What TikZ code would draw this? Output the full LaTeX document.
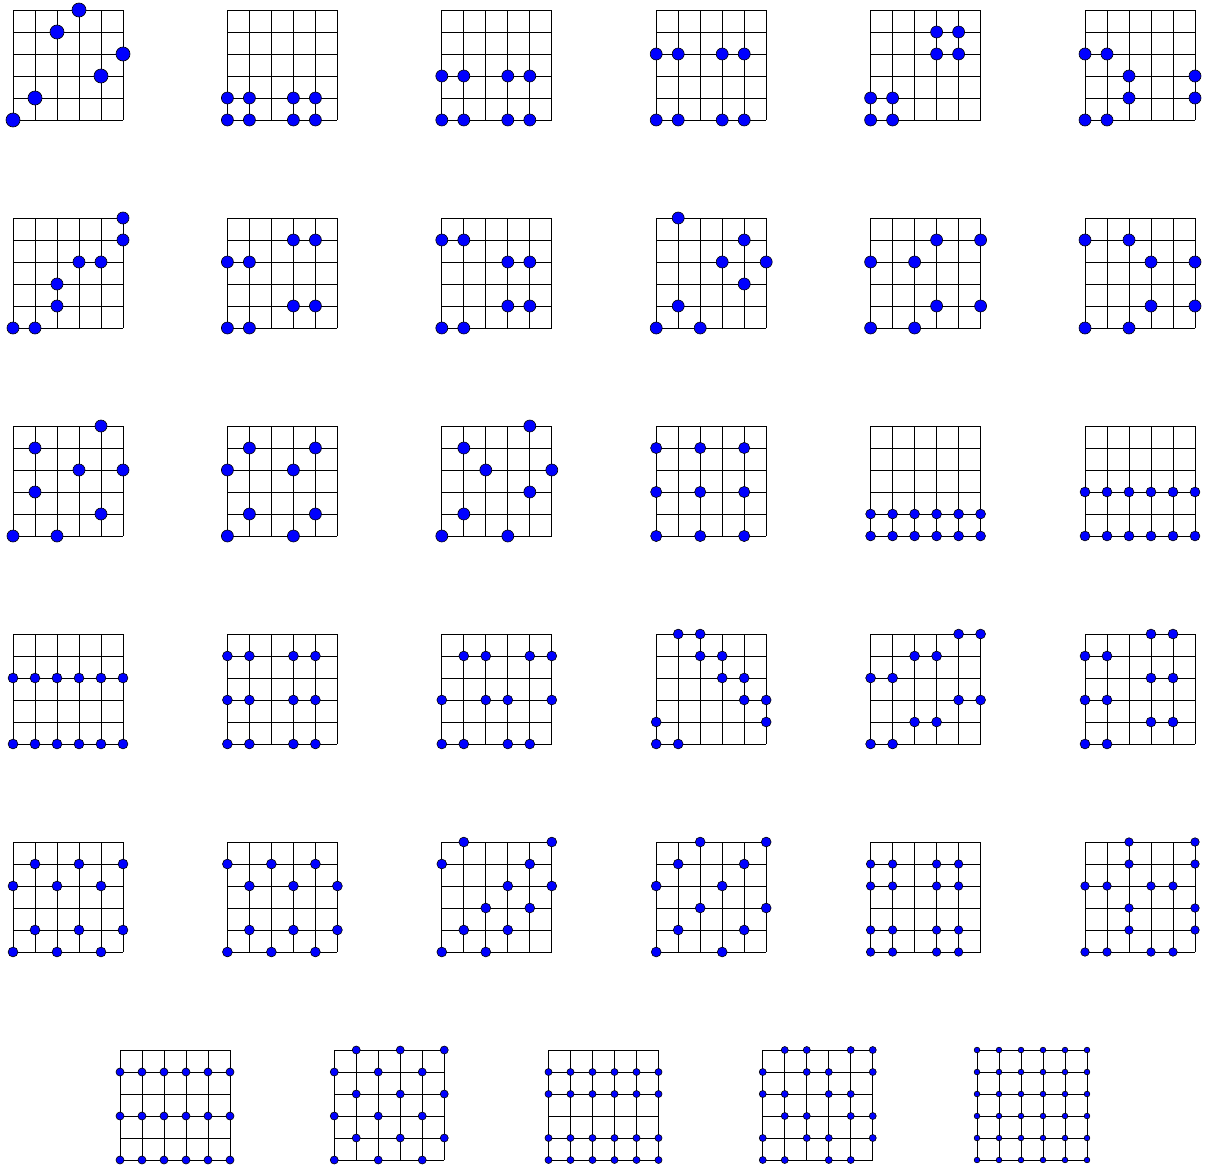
\documentclass[tikz,border=0pt]{standalone}
\begin{document}
\begin{tikzpicture}[x=1pt,y=-1pt]
\tikzset{gridline/.style={line width=0.9pt,draw=black},
         dotmark/.style={fill=blue,draw=black,line width=0.6pt}}
\newcommand\drawlattice{\foreach \k in {0,...,5}{\draw[gridline] (22*\k,0)--(22*\k,110); \draw[gridline] (0,22*\k)--(110,22*\k);}}
\newcommand\gridpts[4]{\begin{scope}[shift={(#1,#2)}]\drawlattice
  \foreach \i/\j in {#4}{\draw[dotmark] (22*\i,110-22*\j) circle[radius=#3pt];}\end{scope}}
\newcommand\gridprod[5]{\begin{scope}[shift={(#1,#2)}]\drawlattice
  \foreach \i in {#4}{\foreach \j in {#5}{\draw[dotmark] (22*\i,110-22*\j) circle[radius=#3pt];}}\end{scope}}
\fill[white] (0,0) rectangle (1213,1167);
\useasboundingbox (0,0) rectangle (1213,1167);
% row 1
\gridpts{13}{10}{7}{0/0,1/1,2/4,3/5,4/2,5/3}
\gridprod{227.4}{10}{6}{0,1,3,4}{0,1}
\gridprod{441.8}{10}{6}{0,1,3,4}{0,2}
\gridprod{656.2}{10}{6}{0,1,3,4}{0,3}
\gridpts{870.6}{10}{6}{0/0,1/0,0/1,1/1,3/3,4/3,3/4,4/4}
\gridpts{1085}{10}{6}{0/0,1/0,0/3,1/3,2/1,2/2,5/1,5/2}
% row 2
\gridpts{13}{218}{6}{0/0,1/0,2/1,2/2,3/3,4/3,5/4,5/5}
\gridpts{227.4}{218}{6}{0/0,1/0,3/1,4/1,0/3,1/3,3/4,4/4}
\gridpts{441.8}{218}{6}{0/0,1/0,3/1,4/1,3/3,4/3,0/4,1/4}
\gridpts{656.2}{218}{6}{0/0,2/0,1/1,4/2,3/3,5/3,4/4,1/5}
\gridpts{870.6}{218}{6}{0/0,2/0,3/1,5/1,0/3,2/3,3/4,5/4}
\gridpts{1085}{218}{6}{0/0,2/0,3/1,5/1,3/3,5/3,0/4,2/4}
% row 3
\gridpts{13}{426}{6}{0/0,2/0,4/1,1/2,3/3,5/3,1/4,4/5}
\gridpts{227.4}{426}{6}{0/0,3/0,1/1,4/1,0/3,3/3,1/4,4/4}
\gridpts{441.8}{426}{6}{0/0,3/0,1/1,4/2,2/3,5/3,1/4,4/5}
\gridprod{656.2}{426}{5.6}{0,2,4}{0,2,4}
\gridprod{870.6}{426}{4.9}{0,...,5}{0,1}
\gridprod{1085}{426}{4.9}{0,...,5}{0,2}
% row 4
\gridprod{13}{634}{4.9}{0,...,5}{0,3}
\gridprod{227.4}{634}{4.9}{0,1,3,4}{0,2,4}
\gridpts{441.8}{634}{4.9}{1/4,2/4,4/4,5/4,0/2,2/2,3/2,5/2,0/0,1/0,3/0,4/0}
\gridpts{656.2}{634}{4.9}{0/0,1/0,0/1,5/1,4/2,5/2,3/3,4/3,2/4,3/4,1/5,2/5}
\gridpts{870.6}{634}{4.9}{0/0,1/0,2/1,3/1,4/2,5/2,0/3,1/3,2/4,3/4,4/5,5/5}
\gridpts{1085}{634}{4.9}{0/0,1/0,3/1,4/1,0/2,1/2,3/3,4/3,0/4,1/4,3/5,4/5}
% row 5
\gridpts{13}{842}{4.9}{0/0,2/0,4/0,1/1,3/1,5/1,0/3,2/3,4/3,1/4,3/4,5/4}
\gridpts{227.4}{842}{4.9}{0/0,2/0,4/0,1/1,3/1,5/1,1/3,3/3,5/3,0/4,2/4,4/4}
\gridpts{441.8}{842}{4.9}{0/0,2/0,1/1,3/1,2/2,4/2,3/3,5/3,0/4,4/4,1/5,5/5}
\gridpts{656.2}{842}{4.9}{0/0,3/0,1/1,4/1,2/2,5/2,0/3,3/3,1/4,4/4,2/5,5/5}
\gridprod{870.6}{842}{4.25}{0,1,3,4}{0,1,3,4}
\gridpts{1085}{842}{4.25}{0/0,1/0,3/0,4/0,2/1,5/1,2/2,5/2,0/3,1/3,3/3,4/3,2/4,5/4,2/5,5/5}
% row 6
\gridprod{120}{1050}{4}{0,...,5}{0,2,4}
\gridpts{334.25}{1050}{4}{0/0,2/0,4/0,1/1,3/1,5/1,0/2,2/2,4/2,1/3,3/3,5/3,0/4,2/4,4/4,1/5,3/5,5/5}
\gridprod{548.5}{1050}{3.5}{0,...,5}{0,1,3,4}
\gridpts{762.75}{1050}{3.5}{1/5,2/5,4/5,5/5,0/4,2/4,3/4,5/4,0/3,1/3,3/3,4/3,1/2,2/2,4/2,5/2,0/1,2/1,3/1,5/1,0/0,1/0,3/0,4/0}
\gridprod{977}{1050}{2.85}{0,...,5}{0,...,5}
\end{tikzpicture}
\end{document}
